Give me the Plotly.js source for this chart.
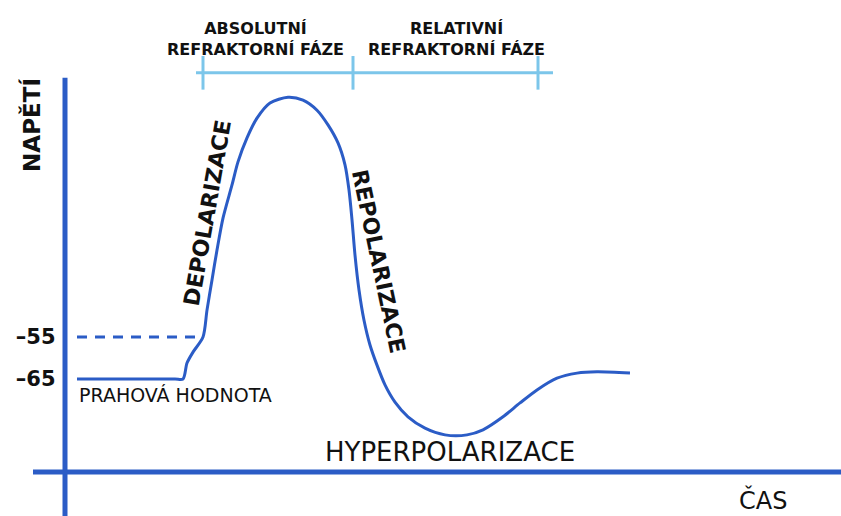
<!DOCTYPE html>
<html>
<head>
<meta charset="utf-8">
<script src="https://cdn.plot.ly/plotly-3.0.1.min.js"></script>
<style>html,body{margin:0;padding:0;background:#fff;}#chart{width:841px;height:516px;}</style>
</head>
<body>
<div id="chart"></div>
<script>
// ---- data (time in ms, voltage in mV) ----
const timeMs = [0.24, 1.30, 2.20, 2.36, 2.44, 2.56, 2.76, 2.84, 2.94, 3.04, 3.16, 3.34, 3.46, 3.64, 3.84, 4.10, 4.46, 4.76, 5.04, 5.26, 5.46, 5.60, 5.68, 5.74, 5.80, 5.88, 5.98, 6.10, 6.24, 6.40, 6.60, 6.86, 7.20, 7.60, 8.04, 8.36, 8.76, 9.10, 9.44, 9.84, 10.24, 10.64, 11.30];
const voltageMv = [-65, -65, -65, -65, -61.2, -58.6, -55, -48.6, -41.4, -34.3, -26.7, -18.8, -13.3, -7.6, -2.9, 0.7, 2.1, 1.4, -1.0, -4.5, -8.8, -14.0, -20.0, -27.1, -35.5, -43.8, -51.0, -56.9, -61.7, -66.4, -70.5, -74.0, -76.7, -78.3, -78.3, -77.1, -74.0, -70.7, -67.6, -64.8, -63.6, -63.3, -63.6];
const thresholdMv = -55;
const thresholdStart = 0.24;
const thresholdEnd = 2.76;
const tickVals = [-65, -55];
const tickText = ['–65', '–55'];
const phaseBounds = [2.76, 5.76, 9.46];
const phaseBarExtent = [2.62, 9.76];
const phaseBarMv = 7.9;
const phaseTickHalf = 4.0;
const phaseLabels = ['ABSOLUTNÍ<br>REFRAKTORNÍ FÁZE', 'RELATIVNÍ<br>REFRAKTORNÍ FÁZE'];
const phaseLabelX = [3.8, 7.82];
const axisTitleY = 'NAPĚTÍ';
const axisTitleX = 'ČAS';

const blue = '#2b5cc6';
const light = '#7cc6ea';
const xRange = [-1.3, 15.52];
const yRange = [-97.62, 25.24];
const xAxisMv = -87.14;
const yAxisTop = 6.7;
const xAxisLeft = -0.64;

// phase bar traces
const barX = [phaseBarExtent[0], phaseBarExtent[1]];
const barY = [phaseBarMv, phaseBarMv];
const tickX = [], tickY = [];
phaseBounds.forEach(b => { tickX.push(b, b, null); tickY.push(phaseBarMv + phaseTickHalf, phaseBarMv - phaseTickHalf, null); });

const traces = [
  {x: timeMs, y: voltageMv, mode: 'lines', line: {color: blue, width: 3, shape: 'spline', smoothing: 0.8}, hoverinfo: 'skip'},
  {x: [thresholdStart, thresholdEnd], y: [thresholdMv, thresholdMv], mode: 'lines', line: {color: blue, width: 3, dash: '10px,8px'}, hoverinfo: 'skip'},
  {x: barX, y: barY, mode: 'lines', line: {color: light, width: 3}, hoverinfo: 'skip'},
  {x: tickX, y: tickY, mode: 'lines', line: {color: light, width: 3}, hoverinfo: 'skip'}
];

const font = 'DejaVu Sans, sans-serif';
const ann = (text, x, y, size, weight, extra) => Object.assign({text: text, x: x, y: y, xref: 'x', yref: 'y', showarrow: false, font: {family: font, size: size, color: '#111', weight: weight}}, extra || {});

const layout = {
  width: 841, height: 516,
  margin: {l: 0, r: 0, t: 0, b: 0},
  paper_bgcolor: '#fff', plot_bgcolor: '#fff',
  showlegend: false,
  xaxis: {range: xRange, showgrid: false, zeroline: false, showticklabels: false, showline: false, fixedrange: true},
  yaxis: {range: yRange, showgrid: false, zeroline: false, showline: false, anchor: 'free', position: 0.066,
          tickmode: 'array', tickvals: tickVals, ticktext: tickText, ticks: '',
          tickfont: {family: font, size: 21, color: '#111', weight: 'bold'}, fixedrange: true},
  shapes: [
    {type: 'line', xref: 'x', yref: 'y', x0: 0, x1: 0, y0: yRange[0], y1: yAxisTop, line: {color: blue, width: 5}},
    {type: 'line', xref: 'x', yref: 'y', x0: xAxisLeft, x1: xRange[1], y0: xAxisMv, y1: xAxisMv, line: {color: blue, width: 5}}
  ],
  annotations: [
    ann(axisTitleY, -0.66, -4.5, 23, 'bold', {textangle: -90}),
    ann(axisTitleX, 13.96, -93.8, 24, 'normal'),
    ann(phaseLabels[0], phaseLabelX[0], 16.0, 16, 'bold'),
    ann(phaseLabels[1], phaseLabelX[1], 16.0, 16, 'bold'),
    ann('DEPOLARIZACE', 2.84, -25.5, 22, 'bold', {textangle: -80}),
    ann('REPOLARIZACE', 6.26, -36.9, 22, 'bold', {textangle: 78}),
    ann('PRAHOVÁ HODNOTA', 0.24, -68.8, 19, 'normal', {xanchor: 'left'}),
    ann('HYPERPOLARIZACE', 7.7, -82.4, 26, 'normal')
  ]
};

Plotly.newPlot('chart', traces, layout, {displayModeBar: false, staticPlot: true});
</script>
</body>
</html>
